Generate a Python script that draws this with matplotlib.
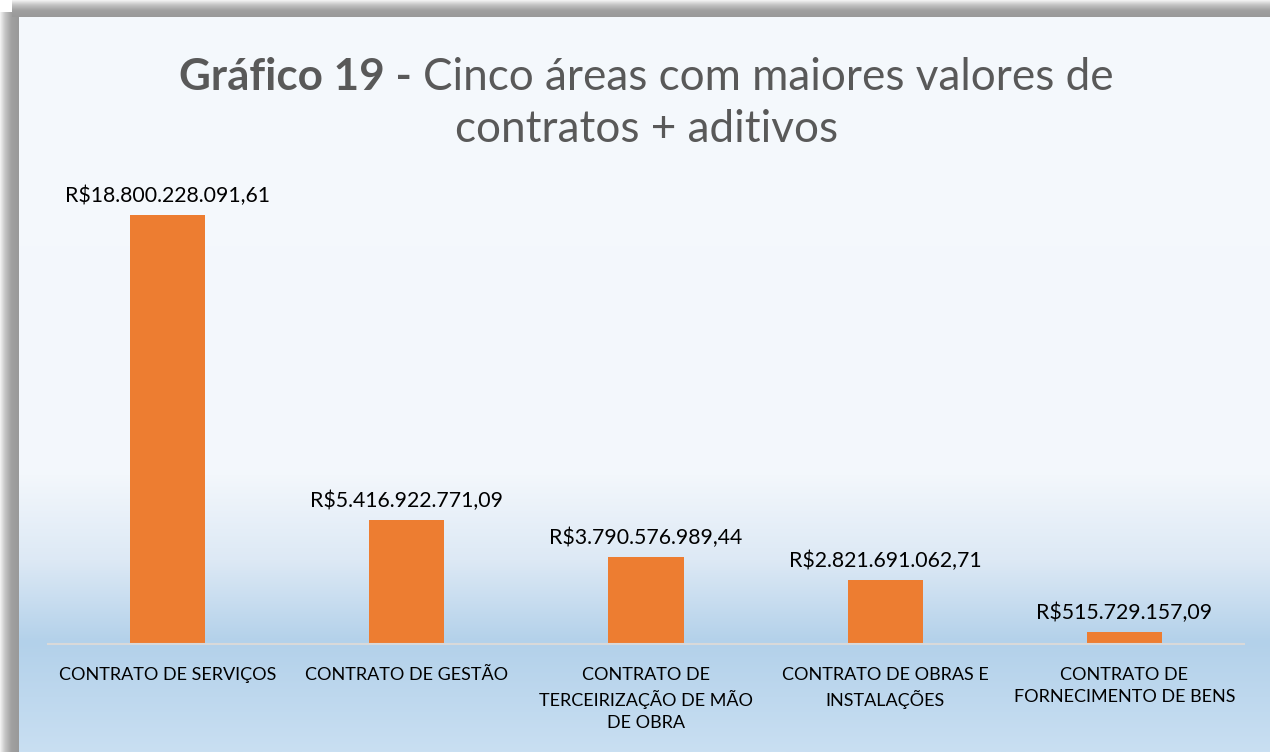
import numpy as np
import matplotlib
matplotlib.use("Agg")
import matplotlib.pyplot as plt
from matplotlib.colors import to_rgb

# ---- data ----
categories = [
    "CONTRATO DE SERVIÇOS",
    "CONTRATO DE GESTÃO",
    "CONTRATO DE\nTERCEIRIZAÇÃO DE MÃO\nDE OBRA",
    "CONTRATO DE OBRAS E\nINSTALAÇÕES",
    "CONTRATO DE\nFORNECIMENTO DE BENS",
]
values = [18800228091.61, 5416922771.09, 3790576989.44, 2821691062.71, 515729157.09]
value_labels = [
    "R$18.800.228.091,61",
    "R$5.416.922.771,09",
    "R$3.790.576.989,44",
    "R$2.821.691.062,71",
    "R$515.729.157,09",
]
title_bold = "Gráfico 19 - "
title_rest_1 = "Cinco áreas com maiores valores de"
title_line_2 = "contratos + aditivos"

FONT = "Lato"
W, H = 1270, 752
fig = plt.figure(figsize=(W / 100, H / 100), dpi=100)

# ---- background (pixel coordinate axes) ----
bg = fig.add_axes([0, 0, 1, 1], zorder=-10)
bg.set_xlim(0, W)
bg.set_ylim(H, 0)
bg.axis("off")
bg.imshow(np.ones((2, 2, 3)), extent=[0, W, H, 0], aspect="auto")

# panel vertical gradient
stops = [(17, "#f5f9fd"), (475, "#f3f7fc"), (560, "#dde9f5"), (642, "#b3d1ea"), (752, "#c9dff2")]
ys = np.arange(17, H + 1)
sy = [s[0] for s in stops]
cols = np.array([to_rgb(s[1]) for s in stops])
grad = np.stack([np.interp(ys, sy, cols[:, k]) for k in range(3)], axis=-1)
bg.imshow(grad[:, None, :], extent=[19, W, H, 17], aspect="auto", interpolation="bilinear")

# shadow strips (left and top)
xs = np.linspace(0, 1, 20)
sh = np.interp(xs, [0, 0.25, 0.6, 1], [0.95, 0.78, 0.63, 0.6])
left = np.repeat(sh[None, :, None], 3, axis=2)
bg.imshow(left, extent=[0, 19, H, 12], aspect="auto", interpolation="bilinear")
top = np.repeat(sh[:, None, None], 3, axis=2)
bg.imshow(top, extent=[12, W, 17, 0], aspect="auto", interpolation="bilinear")

# ---- main axes ----
ax = fig.add_axes([48 / W, (H - 644) / H, (1244 - 48) / W, (644 - 187.6) / H])
ax.patch.set_alpha(0)
x = np.arange(len(categories))
bars = ax.bar(x, values, width=0.315, color="#ed7d31", zorder=2)
ax.set_xlim(-0.5, len(categories) - 0.5)
ax.set_ylim(0, 20e9)
for s in ["top", "right", "left"]:
    ax.spines[s].set_visible(False)
ax.spines["bottom"].set_color("#d9d9d9")
ax.spines["bottom"].set_linewidth(1.5)
ax.set_yticks([])
ax.set_xticks(x)
ax.set_xticklabels(categories, fontsize=13, family=FONT, color="#000000", linespacing=1.45)
ax.tick_params(axis="x", length=0, pad=16.5)

for xi, v, lab in zip(x, values, value_labels):
    ax.annotate(lab, (xi, v), xytext=(0, 9), textcoords="offset pixels",
                ha="center", va="bottom", fontsize=15.3, family=FONT, color="#000000")

# ---- title (bold + regular on line 1) ----
tsize = 31.7
tcol = "#595959"
fig.canvas.draw()
r = fig.canvas.get_renderer()
t1 = fig.text(0, 0, title_bold, fontsize=tsize, fontweight="bold", family=FONT, color=tcol)
t2 = fig.text(0, 0, title_rest_1, fontsize=tsize, family=FONT, color=tcol)
w1 = t1.get_window_extent(r).width
w2 = t2.get_window_extent(r).width
cx = 646.5
start = cx - (w1 + w2) / 2
y1 = 1 - 77 / H
t1.set_position((start / W, y1)); t1.set_va("center")
t2.set_position(((start + w1) / W, y1)); t2.set_va("center")
fig.text(cx / W, 1 - 129 / H, title_line_2, fontsize=tsize, family=FONT, color=tcol,
         ha="center", va="center")

fig.savefig("out.png", dpi=100)
